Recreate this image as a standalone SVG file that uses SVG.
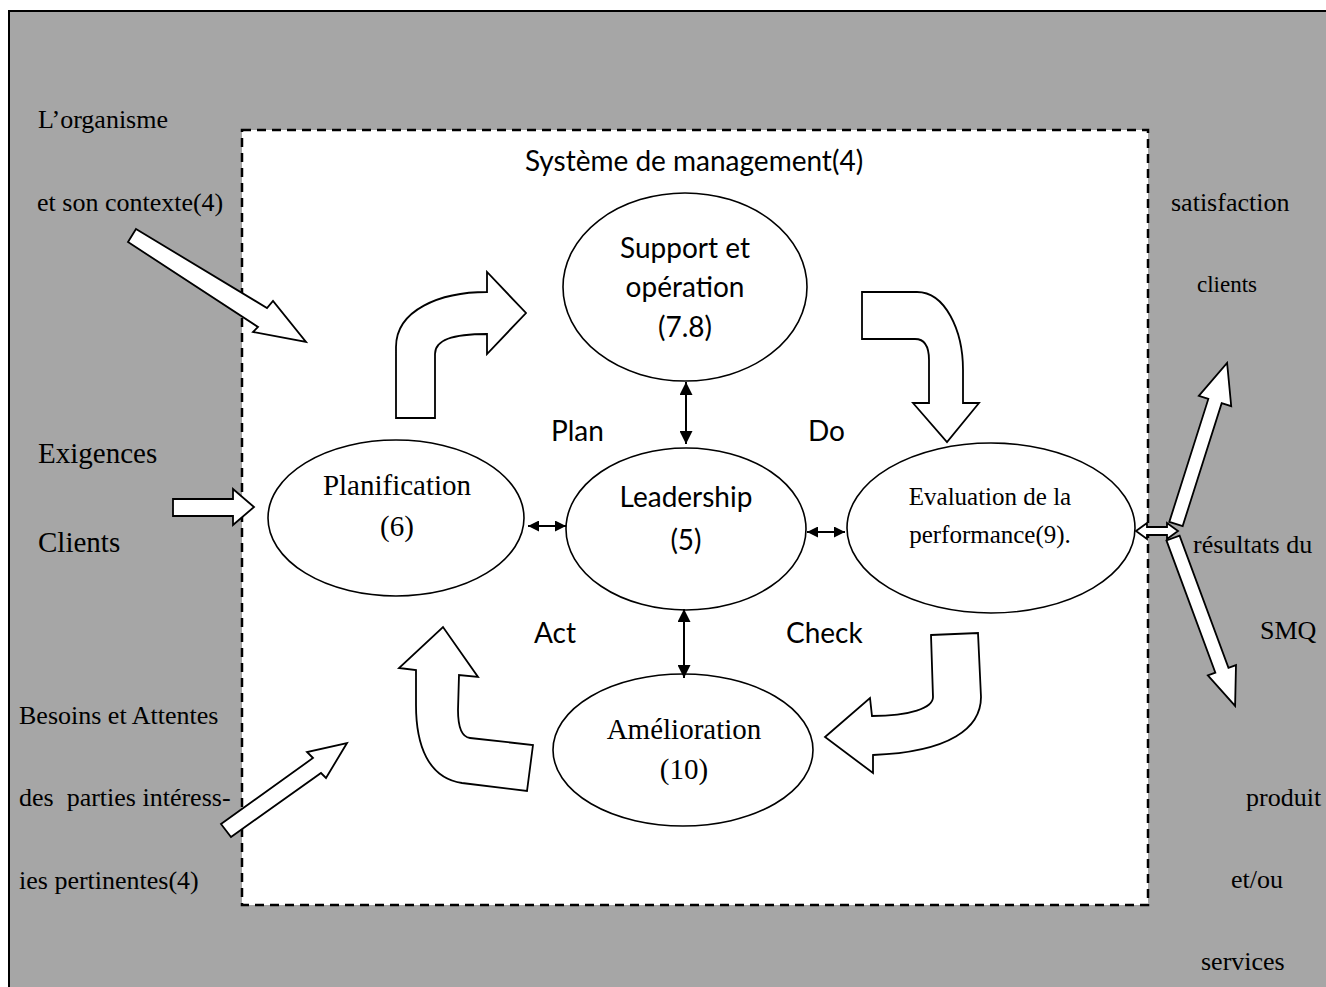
<svg xmlns="http://www.w3.org/2000/svg" width="1326" height="987" viewBox="0 0 1326 987">
  <style>
    .frame { fill: #a6a6a6; stroke: #000; stroke-width: 2; }
    .sys { fill: #fff; stroke: #000; stroke-width: 2.5; stroke-dasharray: 9 6; }
    .node ellipse { fill: #fff; stroke: #000; stroke-width: 1.6; }
    .blk { fill: #fff; stroke: #000; stroke-width: 1.8; stroke-linejoin: miter; }
    .link { stroke: #000; stroke-width: 2; fill: none; }
    .serif { font-family: "Liberation Serif", "Times New Roman", serif; fill: #000; }
    .sans { font-family: Lato, "Open Sans", "Liberation Sans", sans-serif; fill: #000; }
    .lbl { font-size: 26px; }
    .big { font-size: 29px; }
    .ctr { text-anchor: middle; }
  </style>
  <defs>
    <marker id="head" viewBox="0 0 10 10" refX="10" refY="5" markerWidth="13" markerHeight="13" markerUnits="userSpaceOnUse" orient="auto-start-reverse">
      <path d="M0,0 L10,5 L0,10 z" fill="#000"/>
    </marker>
    <marker id="headS" viewBox="0 0 10 10" refX="10" refY="5" markerWidth="11" markerHeight="11" markerUnits="userSpaceOnUse" orient="auto-start-reverse">
      <path d="M0,0 L10,5 L0,10 z" fill="#000"/>
    </marker>
  </defs>

  <!-- outer frame: the organisation and its context -->
  <rect class="frame" x="9" y="11" width="1330" height="990"/>
  <!-- dashed boundary of the management system -->
  <rect class="sys" x="242" y="130" width="906" height="775"/>

  <!-- side labels -->
  <g id="labels-left" class="serif lbl">
    <text x="38" y="128">L’organisme</text>
    <text x="37" y="211">et son contexte(4)</text>
    <text x="38" y="463" class="big">Exigences</text>
    <text x="38" y="552" class="big">Clients</text>
    <text x="19" y="724">Besoins et Attentes</text>
    <text x="19" y="806" xml:space="preserve">des  parties intéress-</text>
    <text x="19" y="889">ies pertinentes(4)</text>
  </g>
  <g id="labels-right" class="serif lbl">
    <text x="1171" y="211">satisfaction</text>
    <text x="1197" y="292" style="font-size:23px">clients</text>
    <text x="1193" y="553">résultats du</text>
    <text x="1260" y="639">SMQ</text>
    <text x="1246" y="806">produit</text>
    <text x="1231" y="888">et/ou</text>
    <text x="1201" y="970">services</text>
  </g>

  <text class="sans ctr" x="694" y="171" style="font-size:28px">Système de management(4)</text>

  <!-- PDCA labels -->
  <g class="sans" style="font-size:28px">
    <text x="551" y="441">Plan</text>
    <text x="808" y="441">Do</text>
    <text x="534" y="643">Act</text>
    <text x="786" y="643">Check</text>
  </g>

  <!-- nodes -->
  <g id="support" class="node">
    <ellipse cx="685" cy="287" rx="122" ry="94"/>
    <text class="sans ctr" x="685" y="258" style="font-size:28px">Support et</text>
    <text class="sans ctr" x="685" y="297" style="font-size:28px">opération</text>
    <text class="sans ctr" x="685" y="337" style="font-size:28px">(7.8)</text>
  </g>
  <g id="leadership" class="node">
    <ellipse cx="686" cy="529" rx="120" ry="81"/>
    <text class="sans ctr" x="686" y="507" style="font-size:28px">Leadership</text>
    <text class="sans ctr" x="686" y="550" style="font-size:28px">(5)</text>
  </g>
  <g id="planification" class="node">
    <ellipse cx="396" cy="518" rx="128" ry="78"/>
    <text class="serif ctr big" x="397" y="495">Planification</text>
    <text class="serif ctr big" x="397" y="536">(6)</text>
  </g>
  <g id="evaluation" class="node">
    <ellipse cx="991" cy="528" rx="144" ry="85"/>
    <text class="serif ctr" x="990" y="505" style="font-size:25px">Evaluation de la</text>
    <text class="serif ctr" x="990" y="543" style="font-size:25px">performance(9).</text>
  </g>
  <g id="amelioration" class="node">
    <ellipse cx="683" cy="750" rx="130" ry="76"/>
    <text class="serif ctr big" x="684" y="739">Amélioration</text>
    <text class="serif ctr big" x="684" y="779">(10)</text>
  </g>

  <!-- connectors -->
  <g id="connectors">
    <line class="link" x1="686" y1="382" x2="686" y2="444" marker-start="url(#head)" marker-end="url(#head)"/>
    <line class="link" x1="684" y1="609" x2="684" y2="678" marker-start="url(#head)" marker-end="url(#head)"/>
    <line class="link" x1="528" y1="526" x2="566" y2="526" marker-start="url(#headS)" marker-end="url(#headS)"/>
    <line class="link" x1="807" y1="532" x2="845" y2="532" marker-start="url(#headS)" marker-end="url(#headS)"/>

    <!-- block arrows: inputs -->
    <polygon class="blk" points="136,229 267,308 273,301 306,342 253,332 258,327 128,242"/>
    <polygon class="blk" points="173,499 233,499 233,489 254,507 233,525 233,516 173,516"/>
    <polygon class="blk" points="221,824 313,758 307,752 347,743 326,778 321,773 231,837"/>

    <!-- PDCA cycle arrows -->
    <path class="blk" d="M396,418 L435,418 L435,354 C435,340 452,334 487,334 L487,354 L526,313 L487,272 L487,292 C440,292 396,310 396,347 Z"/>
    <path class="blk" d="M862,292 L917,292 C945,292 963,330 963,370 L963,403 L979,403 L947,442 L913,403 L929,403 L929,360 C929,346 924,339 915,339 L862,339 Z"/>
    <path class="blk" d="M931,635 L978,633 L981,697 C981,728 950,752 873,755 L873,773 L825,737 L870,698 L872,716 C910,716 933,708 933,697 Z"/>
    <path class="blk" d="M533,745 L527,791 L462,783 C428,778 416,745 416,705 L416,670 L399,668 L443,627 L478,677 L459,675 L458,710 C458,728 462,737 470,738 Z"/>

    <!-- outputs -->
    <polygon class="blk" points="1136,531 1147,523 1147,527 1167,527 1167,523 1178,531 1167,539 1167,535 1147,535 1147,539"/>
    <polygon class="blk" transform="translate(1176,524) rotate(-72.4)" points="0,-7 129,-7 129,-17 169,0 129,17 129,7 0,7"/>
    <polygon class="blk" transform="translate(1173,538) rotate(69.7)" points="0,-7 141,-7 141,-15 179,0 141,15 141,7 0,7"/>
  </g>
</svg>
